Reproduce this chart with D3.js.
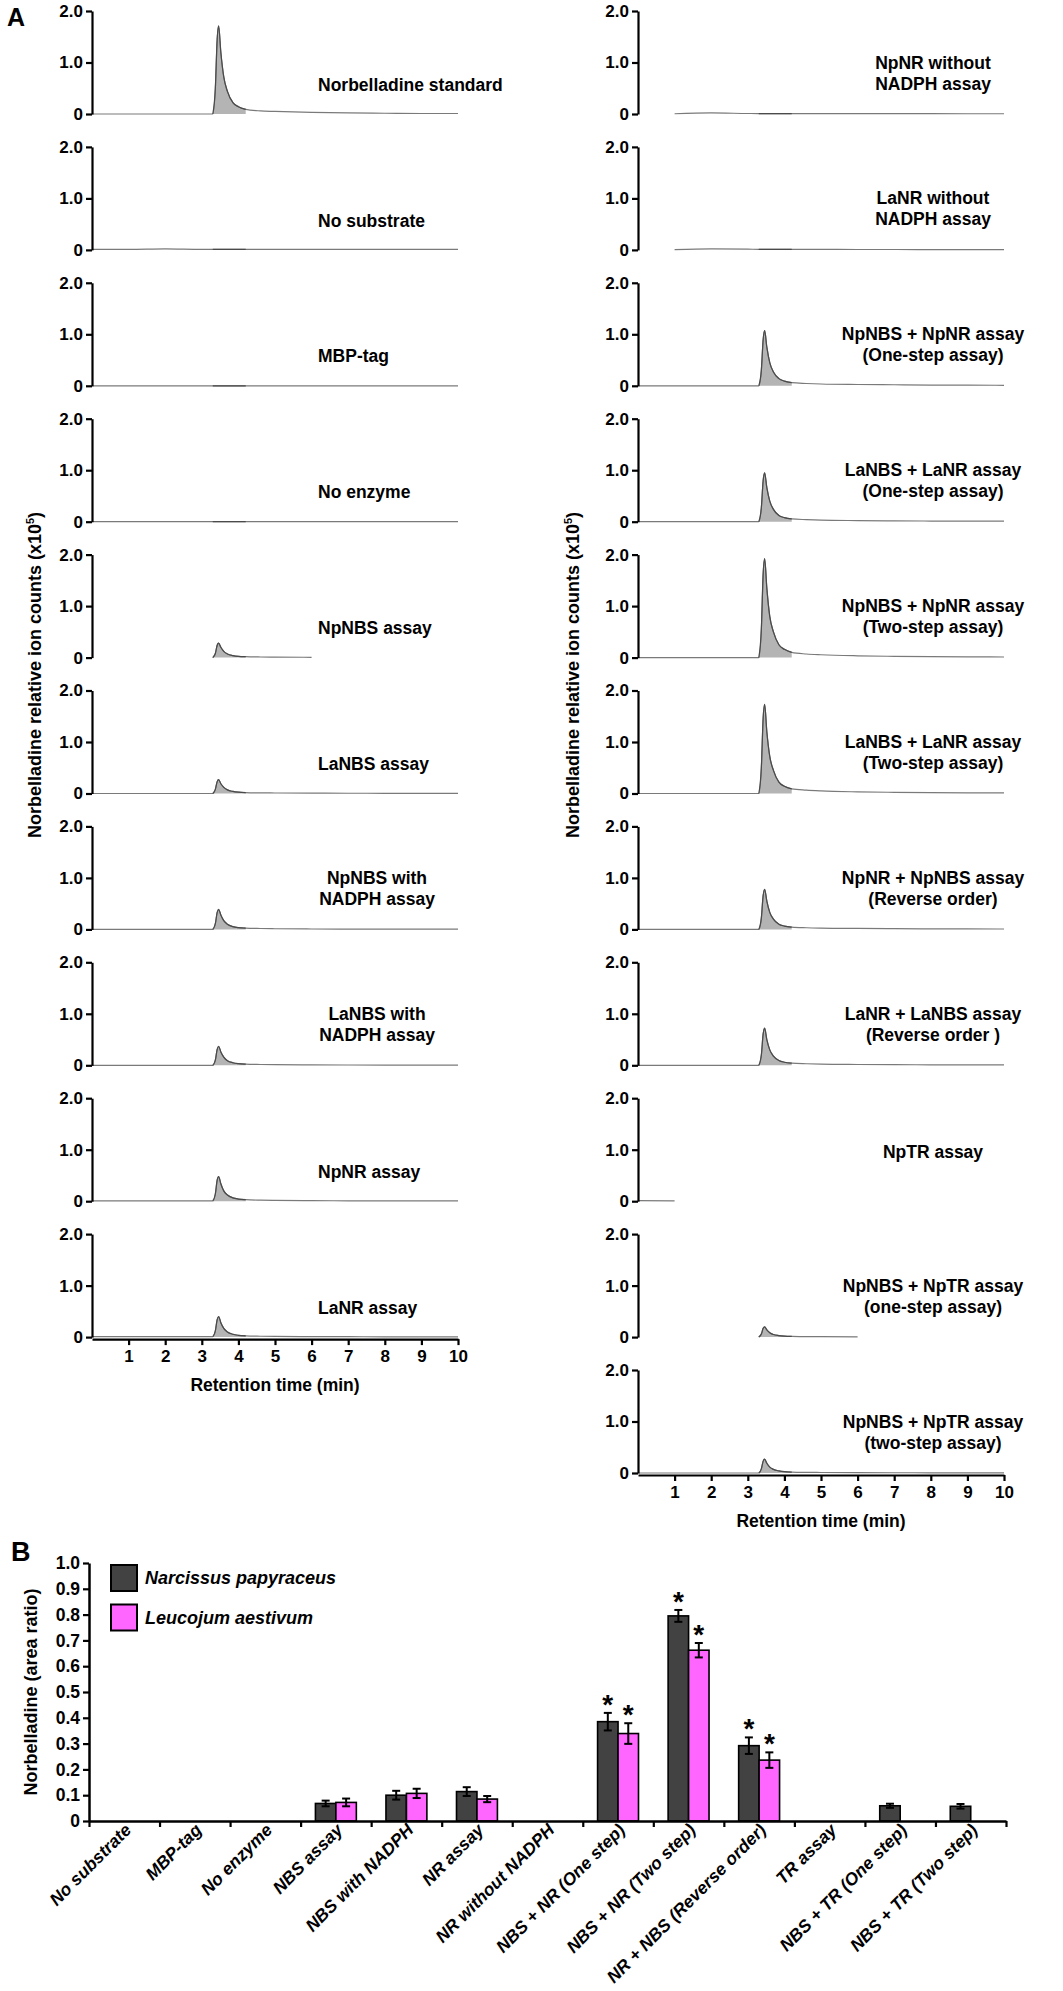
<!DOCTYPE html>
<html>
<head>
<meta charset="utf-8">
<script src="https://cdn.jsdelivr.net/npm/d3@7"></script>
<style>
  body { margin: 0; background: #fff; }
  svg { display: block; }
  text { font-family: "Liberation Sans", Arial, sans-serif; font-weight: bold; }
</style>
</head>
<body>
<svg id="fig" width="1063" height="1991"></svg>
<script>
// ---- panel A: retention time grid (min) shared by every trace
const rt = [0, 1, 2, 3, 3.3, 3.37, 3.42, 3.46, 3.52, 3.6, 3.7, 3.85, 4.0, 4.2, 4.6, 5, 6, 7, 8, 9, 10];

const leftLabels = [
  ["Norbelladine standard"], ["No substrate"], ["MBP-tag"], ["No enzyme"],
  ["NpNBS assay"], ["LaNBS assay"], ["NpNBS with", "NADPH assay"],
  ["LaNBS with", "NADPH assay"], ["NpNR assay"], ["LaNR assay"]
];
const rightLabels = [
  ["NpNR without", "NADPH assay"], ["LaNR without", "NADPH assay"],
  ["NpNBS + NpNR assay", "(One-step assay)"], ["LaNBS + LaNR assay", "(One-step assay)"],
  ["NpNBS + NpNR assay", "(Two-step assay)"], ["LaNBS + LaNR assay", "(Two-step assay)"],
  ["NpNR + NpNBS assay", "(Reverse order)"], ["LaNR + LaNBS assay", "(Reverse order )"],
  ["NpTR assay"], ["NpNBS + NpTR assay", "(one-step assay)"], ["NpNBS + NpTR assay", "(two-step assay)"]
];

// ion counts (x10^5), one value per rt point, null = no trace
const leftTraces = [
  [0,0,0,0,0,0.5,1.45,1.71,1.2,0.72,0.44,0.22,0.14,0.09,0.06,0.05,0.03,0.02,0.015,0.01,0.01],
  [0.01,0.01,0.02,0.01,0.01,0.01,0.01,0.01,0.01,0.01,0.01,0.01,0.01,0.01,0.01,0.01,0.01,0.01,0.01,0.01,0.01],
  [0,0,0,0,0,0,0,0,0,0,0,0,0,0,0,0,0,0,0,0,0],
  [0,0,0,0,0,0,0,0,0,0,0,0,0,0,0,0,0,0,0,0,0],
  [null,null,null,null,0,0.08,0.24,0.28,0.2,0.12,0.07,0.04,0.025,0.018,0.012,0.01,0.006,null,null,null,null],
  [0,0,0,0,0,0.08,0.23,0.27,0.19,0.12,0.07,0.04,0.025,0.018,0.012,0.01,0.006,0.005,0.004,0.003,0.003],
  [0,0,0,0,0,0.11,0.33,0.39,0.28,0.17,0.1,0.055,0.035,0.025,0.017,0.013,0.008,0.006,0.005,0.004,0.004],
  [0,0,0,0,0,0.1,0.31,0.37,0.26,0.16,0.09,0.05,0.032,0.023,0.016,0.012,0.008,0.006,0.005,0.004,0.004],
  [0.005,0.005,0.005,0.005,0.005,0.14,0.41,0.48,0.34,0.2,0.12,0.065,0.042,0.03,0.02,0.015,0.01,0.008,0.006,0.005,0.005],
  [0.01,0.01,0.01,0.01,0.01,0.12,0.34,0.4,0.28,0.17,0.1,0.055,0.035,0.025,0.017,0.013,0.01,0.008,0.006,0.005,0.005]
];
const rightTraces = [
  [null,0.005,0.02,0.01,0.008,0.008,0.008,0.008,0.008,0.008,0.008,0.008,0.008,0.008,0.008,0.008,0.008,0.008,0.006,0.005,0.005],
  [null,0.005,0.02,0.015,0.01,0.01,0.01,0.01,0.01,0.01,0.01,0.01,0.01,0.01,0.01,0.01,0.008,0.008,0.006,0.005,0.005],
  [0,0,0,0,0,0.3,0.9,1.07,0.75,0.45,0.27,0.14,0.09,0.06,0.045,0.035,0.025,0.02,0.015,0.012,0.01],
  [0,0,0,0,0,0.27,0.8,0.95,0.66,0.4,0.24,0.12,0.08,0.055,0.04,0.03,0.022,0.017,0.013,0.01,0.01],
  [0,0,0,0,0,0.55,1.63,1.92,1.35,0.8,0.5,0.25,0.16,0.1,0.07,0.055,0.035,0.025,0.018,0.014,0.012],
  [0,0,0,0,0,0.5,1.47,1.73,1.2,0.72,0.45,0.22,0.14,0.09,0.065,0.05,0.032,0.023,0.017,0.013,0.011],
  [0,0,0,0,0,0.22,0.66,0.78,0.55,0.33,0.2,0.1,0.065,0.045,0.032,0.025,0.018,0.014,0.011,0.009,0.008],
  [0,0,0,0,0,0.2,0.61,0.72,0.5,0.3,0.18,0.095,0.06,0.042,0.03,0.023,0.016,0.012,0.01,0.008,0.007],
  [0.012,0.006,null,null,null,null,null,null,null,null,null,null,null,null,null,null,null,null,null,null,null],
  [null,null,null,null,0,0.06,0.17,0.2,0.14,0.085,0.05,0.03,0.02,0.014,0.01,0.008,0.006,null,null,null,null],
  [0,0,0,0,0,0.08,0.23,0.27,0.19,0.115,0.07,0.04,0.025,0.018,0.012,0.01,0.007,0.005,0.004,0.003,0.003]
];
const yTicksA = [0, 1, 2];
const xTicksA = [1, 2, 3, 4, 5, 6, 7, 8, 9, 10];

// ---- panel B: norbelladine area ratio
const categories = ["No substrate", "MBP-tag", "No enzyme", "NBS assay", "NBS with NADPH", "NR assay",
  "NR without NADPH", "NBS + NR (One step)", "NBS + NR (Two step)", "NR + NBS (Reverse order)",
  "TR assay", "NBS + TR (One step)", "NBS + TR (Two step)"];
const npMean = [null, null, null, 0.068, 0.100, 0.114, null, 0.385, 0.795, 0.292, null, 0.059, 0.057];
const npErr  = [null, null, null, 0.011, 0.017, 0.017, null, 0.034, 0.023, 0.032, null, 0.008, 0.009];
const laMean = [null, null, null, 0.072, 0.107, 0.085, null, 0.339, 0.662, 0.236, null, null, null];
const laErr  = [null, null, null, 0.015, 0.018, 0.012, null, 0.040, 0.028, 0.030, null, null, null];
const npSig  = [false, false, false, false, false, false, false, true, true, true, false, false, false];
const laSig  = [false, false, false, false, false, false, false, true, true, true, false, false, false];
const yTicksB = [0, 0.1, 0.2, 0.3, 0.4, 0.5, 0.6, 0.7, 0.8, 0.9, 1.0];
const speciesNames = ["Narcissus papyraceus", "Leucojum aestivum"];

const svg = d3.select("#fig");
const DARK = "#424242", PINK = "#ff66ff";

function styleAxis(g, size){
  g.attr("font-size", size).attr("font-family", null);
  g.select(".domain").attr("stroke", "#000").attr("stroke-width", 2.2);
  g.selectAll(".tick line").attr("stroke", "#000").attr("stroke-width", 2.2);
  g.selectAll(".tick text").attr("fill", "#000");
}

// ---------- A ----------
svg.append("text").attr("x", 7).attr("y", 26).attr("font-size", 25).text("A");

const step = 135.9, panelH = 103, plotW = 366;
const columns = [
  { axisX: 92, traces: leftTraces, labels: leftLabels, single: { x: 318, anchor: "start", v: 0.57 }, multiX: 377 },
  { axisX: 638, traces: rightTraces, labels: rightLabels, single: { x: 933, anchor: "middle", v: 0.95 }, multiX: 933 }
];

columns.forEach(col => {
  const n = col.traces.length;
  col.traces.forEach((vals, i) => {
    const top = 11 + i * step;
    const x = d3.scaleLinear().domain([0, 10]).range([col.axisX, col.axisX + plotW]);
    const y = d3.scaleLinear().domain([0, 2]).range([top + panelH, top]);
    const pts = rt.map((t, k) => ({ t, v: vals[k] }));
    const g = svg.append("g");

    const inPeak = d => d.v != null && d.t >= 3.3 && d.t <= 4.2;
    g.append("path").datum(pts)
      .attr("fill", "#b4b4b4")
      .attr("d", d3.area().defined(inPeak).x(d => x(d.t)).y0(y(0)).y1(d => y(d.v)).curve(d3.curveMonotoneX));
    g.append("path").datum(pts)
      .attr("fill", "none").attr("stroke", "#7a7a7a").attr("stroke-width", 1.2)
      .attr("d", d3.line().defined(d => d.v != null).x(d => x(d.t)).y(d => y(d.v)).curve(d3.curveMonotoneX));
    g.append("path").datum(pts)
      .attr("fill", "none").attr("stroke", "#4a4a4a").attr("stroke-width", 1.2)
      .attr("d", d3.line().defined(inPeak).x(d => x(d.t)).y(d => y(d.v)).curve(d3.curveMonotoneX));

    const ya = g.append("g").attr("transform", `translate(${col.axisX},0)`)
      .call(d3.axisLeft(y).tickValues(yTicksA).tickFormat(d => d ? d.toFixed(1) : "0").tickSize(6).tickSizeOuter(0).tickPadding(3));
    styleAxis(ya, 17);

    const lines = col.labels[i];
    if (lines.length === 1) {
      g.append("text").attr("x", col.single.x).attr("y", y(col.single.v) + 6)
        .attr("text-anchor", col.single.anchor).attr("font-size", 17.5).text(lines[0]);
    } else {
      lines.forEach((s, j) => {
        g.append("text").attr("x", col.multiX).attr("y", y(1) + 6 + j * 21)
          .attr("text-anchor", "middle").attr("font-size", 17.5).text(s);
      });
    }

    if (i === n - 1) {
      const xa = g.append("g").attr("transform", `translate(0,${y(0) + 2})`)
        .call(d3.axisBottom(x).tickValues(xTicksA).tickSize(6).tickSizeOuter(0).tickPadding(5));
      styleAxis(xa, 17);
      g.append("text").attr("x", col.axisX + plotW / 2).attr("y", y(0) + 54)
        .attr("text-anchor", "middle").attr("font-size", 17.5).text("Retention time (min)");
    }
  });
});

[41, 579].forEach(tx => {
  const t = svg.append("text").attr("transform", `translate(${tx},675) rotate(-90)`)
    .attr("text-anchor", "middle").attr("font-size", 18);
  t.append("tspan").text("Norbelladine relative ion counts (x10");
  t.append("tspan").attr("font-size", 11).attr("dy", -7).text("5");
  t.append("tspan").attr("dy", 7).text(")");
});

// ---------- B ----------
svg.append("text").attr("x", 11).attr("y", 1561).attr("font-size", 27).text("B");

const bLeft = 89, bRight = 1006, bBottom = 1821, bTop = 1563;
const bx0 = d3.scaleBand().domain(categories).range([bLeft, bRight]).padding(0);
const bx1 = d3.scaleBand().domain(["np", "la"]).range([bx0.bandwidth() * 0.21, bx0.bandwidth() * 0.79]);
const by = d3.scaleLinear().domain([0, 1]).range([bBottom, bTop]);
const gb = svg.append("g");

const series = [
  { key: "np", mean: npMean, err: npErr, sig: npSig, color: DARK },
  { key: "la", mean: laMean, err: laErr, sig: laSig, color: PINK }
];
series.forEach(s => {
  const rows = categories.map((c, i) => ({ c, v: s.mean[i], e: s.err[i], sig: s.sig[i] })).filter(d => d.v != null);
  const bw = bx1.bandwidth();
  gb.selectAll(null).data(rows).join("rect")
    .attr("x", d => bx0(d.c) + bx1(s.key)).attr("y", d => by(d.v))
    .attr("width", bw).attr("height", d => by(0) - by(d.v))
    .attr("fill", s.color).attr("stroke", "#000").attr("stroke-width", 1.6);
  const eb = gb.selectAll(null).data(rows).join("g")
    .attr("transform", d => `translate(${bx0(d.c) + bx1(s.key) + bw / 2},0)`);
  eb.append("line").attr("y1", d => by(d.v - d.e)).attr("y2", d => by(d.v + d.e))
    .attr("stroke", "#000").attr("stroke-width", 2);
  eb.append("line").attr("x1", -4).attr("x2", 4).attr("y1", d => by(d.v + d.e)).attr("y2", d => by(d.v + d.e))
    .attr("stroke", "#000").attr("stroke-width", 2);
  eb.append("line").attr("x1", -4).attr("x2", 4).attr("y1", d => by(d.v - d.e)).attr("y2", d => by(d.v - d.e))
    .attr("stroke", "#000").attr("stroke-width", 2);
  eb.filter(d => d.sig).append("text").attr("y", d => by(d.v + d.e) + 1)
    .attr("text-anchor", "middle").attr("font-size", 28).text("*");
});

const yb = gb.append("g").attr("transform", `translate(${bLeft},0)`)
  .call(d3.axisLeft(by).tickValues(yTicksB).tickFormat(d => d ? d.toFixed(1) : "0").tickSize(6).tickSizeOuter(0).tickPadding(3));
styleAxis(yb, 17.5);
yb.select(".domain").attr("stroke-width", 2.5);

const boundaries = d3.scaleLinear().domain([0, categories.length]).range([bLeft, bRight]);
const xb = gb.append("g").attr("transform", `translate(0,${bBottom})`)
  .call(d3.axisBottom(boundaries).tickValues(d3.range(categories.length + 1)).tickFormat("").tickSize(6).tickSizeOuter(0));
styleAxis(xb, 17);
xb.select(".domain").attr("stroke-width", 2.5);

gb.selectAll(null).data(categories).join("text")
  .attr("transform", d => `translate(${bx0(d) + bx0.bandwidth() / 2 + 8},${bBottom + 10}) rotate(-45)`)
  .attr("text-anchor", "end").attr("font-size", 17.5).attr("font-style", "italic")
  .text(d => d);

gb.append("text").attr("transform", `translate(37,1692) rotate(-90)`)
  .attr("text-anchor", "middle").attr("font-size", 18).text("Norbelladine (area ratio)");

const lg = gb.selectAll(null).data(speciesNames).join("g")
  .attr("transform", (d, i) => `translate(111,${1565 + i * 39.5})`);
lg.append("rect").attr("width", 26).attr("height", 26)
  .attr("fill", (d, i) => i ? PINK : DARK).attr("stroke", "#000").attr("stroke-width", 2);
lg.append("text").attr("x", 34).attr("y", 19).attr("font-size", 18).attr("font-style", "italic").text(d => d);
</script>
</body>
</html>
